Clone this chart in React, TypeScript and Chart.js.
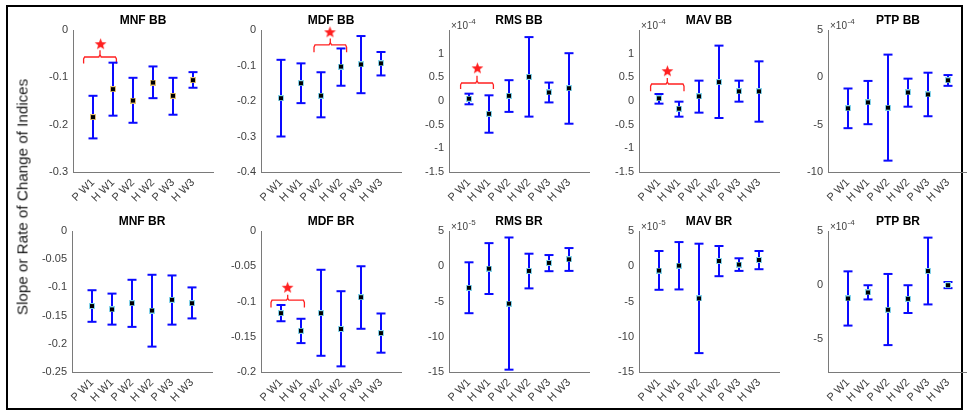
import React, { useEffect, useRef } from "react";
import { Chart, registerables } from "chart.js";
Chart.register(...registerables);

// ---------------- data ----------------
const categories = ["P W1", "H W1", "P W2", "H W2", "P W3", "H W3"];

// MNF BB
const mnfBBMean = [-0.184, -0.125, -0.149, -0.111, -0.139, -0.106];
const mnfBBLow = [-0.229, -0.181, -0.196, -0.144, -0.179, -0.122];
const mnfBBHigh = [-0.139, -0.069, -0.101, -0.077, -0.101, -0.089];
const mnfBBTicks = [-0.3, -0.2, -0.1, 0];
const mnfBBBrace = [0.53, 2.17, -0.057, -0.071, -0.043];
const mnfBBStar = [1.38, -0.029];

// MDF BB
const mdfBBMean = [-0.192, -0.15, -0.185, -0.103, -0.097, -0.094];
const mdfBBLow = [-0.3, -0.206, -0.246, -0.157, -0.178, -0.128];
const mdfBBHigh = [-0.084, -0.094, -0.119, -0.052, -0.017, -0.062];
const mdfBBTicks = [-0.4, -0.3, -0.2, -0.1, 0];
const mdfBBBrace = [2.65, 4.28, -0.042, -0.063, -0.024];
const mdfBBStar = [3.45, -0.005];

// RMS BB (x10^-4)
const rmsBBMean = [0.05, -0.27, 0.11, 0.51, 0.18, 0.27];
const rmsBBLow = [-0.07, -0.67, -0.23, -0.33, -0.03, -0.48];
const rmsBBHigh = [0.155, 0.12, 0.44, 1.35, 0.39, 1.01];
const rmsBBTicks = [-1.5, -1, -0.5, 0, 0.5, 1];
const rmsBBBrace = [0.58, 2.22, 0.38, 0.254, 0.535];
const rmsBBStar = [1.42, 0.7];

// MAV BB (x10^-4)
const mavBBMean = [0.056, -0.162, 0.099, 0.4, 0.204, 0.204];
const mavBBLow = [-0.056, -0.331, -0.246, -0.359, -0.014, -0.437];
const mavBBHigh = [0.148, -0.014, 0.43, 1.17, 0.43, 0.838];
const mavBBTicks = [-1.5, -1, -0.5, 0, 0.5, 1];
const mavBBBrace = [0.58, 2.25, 0.359, 0.204, 0.486];
const mavBBStar = [1.42, 0.64];

// PTP BB (x10^-4)
const ptpBBMean = [-3.27, -2.65, -3.2, -1.6, -1.81, -0.31];
const ptpBBLow = [-5.37, -4.95, -8.8, -3.1, -4.11, -0.9];
const ptpBBHigh = [-1.18, -0.38, 2.4, -0.14, 0.49, 0.24];
const ptpBBTicks = [-10, -5, 0, 5];

// MNF BR
const mnfBRMean = [-0.133, -0.139, -0.128, -0.141, -0.122, -0.128];
const mnfBRLow = [-0.161, -0.166, -0.17, -0.205, -0.166, -0.155];
const mnfBRHigh = [-0.105, -0.111, -0.0865, -0.0776, -0.0788, -0.1];
const mnfBRTicks = [-0.25, -0.2, -0.15, -0.1, -0.05, 0];

// MDF BR
const mdfBRMean = [-0.1165, -0.1415, -0.1165, -0.139, -0.0939, -0.1448];
const mdfBRLow = [-0.128, -0.159, -0.177, -0.192, -0.1387, -0.1726];
const mdfBRHigh = [-0.105, -0.1245, -0.055, -0.0854, -0.05, -0.117];
const mdfBRTicks = [-0.2, -0.15, -0.1, -0.05, 0];
const mdfBRBrace = [0.5, 2.17, -0.0981, -0.1085, -0.0906];
const mdfBRStar = [1.33, -0.0797];

// RMS BR (x10^-5)
const rmsBRMean = [-3.05, -0.33, -5.3, -0.66, 0.47, 0.98];
const rmsBRLow = [-6.66, -3.94, -14.67, -3.14, -0.7, -0.66];
const rmsBRHigh = [0.56, 3.28, 4.08, 1.78, 1.59, 2.58];
const rmsBRTicks = [-15, -10, -5, 0, 5];

// MAV BR (x10^-5)
const mavBRMean = [-0.61, 0.09, -4.56, 0.75, 0.24, 0.89];
const mavBRLow = [-3.34, -3.29, -12.32, -1.41, -0.66, -0.42];
const mavBRHigh = [2.16, 3.43, 3.2, 2.87, 1.13, 2.16];
const mavBRTicks = [-15, -10, -5, 0, 5];

// PTP BR (x10^-4)
const ptpBRMean = [-1.22, -0.67, -2.26, -1.25, 1.31, 0.0];
const ptpBRLow = [-3.72, -1.31, -5.52, -2.56, -1.77, -0.27];
const ptpBRHigh = [1.28, 0.0, 1.04, 0.0, 4.39, 0.3];
const ptpBRTicks = [-5, 0, 5];

// ---------------- style / layout ----------------
const FONT = "'Liberation Sans', Arial, sans-serif";
const BLUE = "#0a0aff";
const RED = "#ff2020";
const TICK_COLOR = "#404040";
const AXIS_COLOR = "#7a7a7a";
const YW = 60; // y-axis box width
const XH = 40; // x-axis box height
const PW = 140; // plot width
const PR = 20; // right padding
const CW = YW + PW + PR;
const CH = 212;

function makeMarker(edge: string) {
  const c = document.createElement("canvas");
  c.width = 6;
  c.height = 6;
  const ctx = c.getContext("2d")!;
  ctx.fillStyle = edge;
  ctx.fillRect(0, 0, 6, 6);
  ctx.fillStyle = "#000";
  ctx.fillRect(1, 1, 4, 4);
  return c;
}

function makeStar(size: number, color: string) {
  const c = document.createElement("canvas");
  c.width = size;
  c.height = size;
  const ctx = c.getContext("2d")!;
  const cx = size / 2;
  const cy = size / 2 + 0.6;
  const R = size / 2 - 0.3;
  const r = R * 0.42;
  ctx.beginPath();
  for (let k = 0; k < 10; k++) {
    const a = -Math.PI / 2 + (k * Math.PI) / 5;
    const rr = k % 2 === 0 ? R : r;
    ctx.lineTo(cx + rr * Math.cos(a), cy + rr * Math.sin(a));
  }
  ctx.closePath();
  ctx.fillStyle = color;
  ctx.fill();
  return c;
}

type PanelCfg = {
  title: string;
  mean: number[];
  low: number[];
  high: number[];
  ticks: number[];
  yMin: number;
  yMax: number;
  exp?: string;
  edge: string;
  brace?: number[];
  star?: number[];
  axisX: number;
  top: number;
  chartTop: number;
  titleY: number;
};

const TOP_X = [73, 261, 449, 639, 828];
const BOT_X = [72, 261, 449, 639, 828];
const EDGE_GOLD = "#e2c078";
const EDGE_CYAN = "#86d3ea";

const panels: PanelCfg[] = [
  { title: "MNF BB", mean: mnfBBMean, low: mnfBBLow, high: mnfBBHigh, ticks: mnfBBTicks, yMin: -0.3, yMax: 0, edge: EDGE_GOLD, brace: mnfBBBrace, star: mnfBBStar, axisX: TOP_X[0], top: 0, chartTop: 30, titleY: 21 },
  { title: "MDF BB", mean: mdfBBMean, low: mdfBBLow, high: mdfBBHigh, ticks: mdfBBTicks, yMin: -0.4, yMax: 0, edge: EDGE_CYAN, brace: mdfBBBrace, star: mdfBBStar, axisX: TOP_X[1], top: 0, chartTop: 30, titleY: 21 },
  { title: "RMS BB", mean: rmsBBMean, low: rmsBBLow, high: rmsBBHigh, ticks: rmsBBTicks, yMin: -1.5, yMax: 1.5, exp: "-4", edge: EDGE_CYAN, brace: rmsBBBrace, star: rmsBBStar, axisX: TOP_X[2], top: 0, chartTop: 30, titleY: 21 },
  { title: "MAV BB", mean: mavBBMean, low: mavBBLow, high: mavBBHigh, ticks: mavBBTicks, yMin: -1.5, yMax: 1.5, exp: "-4", edge: EDGE_CYAN, brace: mavBBBrace, star: mavBBStar, axisX: TOP_X[3], top: 0, chartTop: 30, titleY: 21 },
  { title: "PTP BB", mean: ptpBBMean, low: ptpBBLow, high: ptpBBHigh, ticks: ptpBBTicks, yMin: -10, yMax: 5, exp: "-4", edge: EDGE_CYAN, axisX: TOP_X[4], top: 0, chartTop: 30, titleY: 21 },
  { title: "MNF BR", mean: mnfBRMean, low: mnfBRLow, high: mnfBRHigh, ticks: mnfBRTicks, yMin: -0.25, yMax: 0, edge: EDGE_CYAN, axisX: BOT_X[0], top: 200, chartTop: 31, titleY: 22 },
  { title: "MDF BR", mean: mdfBRMean, low: mdfBRLow, high: mdfBRHigh, ticks: mdfBRTicks, yMin: -0.2, yMax: 0, edge: EDGE_CYAN, brace: mdfBRBrace, star: mdfBRStar, axisX: BOT_X[1], top: 200, chartTop: 31, titleY: 22 },
  { title: "RMS BR", mean: rmsBRMean, low: rmsBRLow, high: rmsBRHigh, ticks: rmsBRTicks, yMin: -15, yMax: 5, exp: "-5", edge: EDGE_CYAN, axisX: BOT_X[2], top: 200, chartTop: 31, titleY: 22 },
  { title: "MAV BR", mean: mavBRMean, low: mavBRLow, high: mavBRHigh, ticks: mavBRTicks, yMin: -15, yMax: 5, exp: "-5", edge: EDGE_CYAN, axisX: BOT_X[3], top: 200, chartTop: 31, titleY: 22 },
  { title: "PTP BR", mean: ptpBRMean, low: ptpBRLow, high: ptpBRHigh, ticks: ptpBRTicks, yMin: -8, yMax: 5, exp: "-4", edge: EDGE_CYAN, axisX: BOT_X[4], top: 200, chartTop: 31, titleY: 22 },
];

function bracePoints(b: number[]) {
  const [x0, x1, yh, ye, yt] = b;
  const xm = (x0 + x1) / 2;
  const d = yh - ye;
  const s = yt - yh;
  return [
    { x: x0, y: ye },
    { x: x0, y: yh - d * 0.3 },
    { x: x0 + 0.05, y: yh },
    { x: xm - 0.06, y: yh },
    { x: xm, y: yh + s * 0.35 },
    { x: xm, y: yt },
    { x: xm, y: yh + s * 0.35 },
    { x: xm + 0.06, y: yh },
    { x: x1 - 0.05, y: yh },
    { x: x1, y: yh - d * 0.3 },
    { x: x1, y: ye },
  ];
}

const expPlugin = {
  id: "expLabel",
  afterDraw(chart: any, _args: any, opts: any) {
    if (!opts || !opts.text) return;
    const { ctx, chartArea } = chart;
    ctx.save();
    ctx.fillStyle = TICK_COLOR;
    ctx.textBaseline = "alphabetic";
    ctx.textAlign = "left";
    ctx.font = `10px ${FONT}`;
    const x = chartArea.left + 2;
    ctx.fillText("\u00d710", x, chartArea.top - 1);
    const w = ctx.measureText("\u00d710").width;
    ctx.font = `8px ${FONT}`;
    ctx.fillText(opts.text, x + w + 0.5, chartArea.top - 6);
    ctx.restore();
  },
};

function fmt(v: number) {
  return String(Number(v.toFixed(4)));
}

function buildConfig(p: PanelCfg): any {
  const marker = makeMarker(p.edge);
  const star = makeStar(13, RED);
  const lines: any[] = [];
  categories.forEach((_, i) => {
    lines.push({ x: i + 1, y: p.low[i] });
    lines.push({ x: i + 1, y: p.high[i] });
    lines.push({ x: i + 1, y: null });
  });
  const caps = [
    ...categories.map((_, i) => ({ x: i + 1, y: p.low[i] })),
    ...categories.map((_, i) => ({ x: i + 1, y: p.high[i] })),
  ];
  const means = categories.map((_, i) => ({ x: i + 1, y: p.mean[i] }));
  const datasets: any[] = [
    { data: means, pointStyle: marker, pointRadius: 4, clip: false },
    { data: caps, pointStyle: "line", pointRadius: 4.5, pointBorderWidth: 2, pointBorderColor: BLUE, pointBackgroundColor: BLUE, clip: false },
    { data: lines, showLine: true, spanGaps: false, borderColor: BLUE, borderWidth: 2, pointRadius: 0, clip: false },
  ];
  if (p.brace) {
    datasets.push({ data: bracePoints(p.brace), showLine: true, borderColor: RED, borderWidth: 1.3, pointRadius: 0, tension: 0, clip: false });
  }
  if (p.star) {
    datasets.push({ data: [{ x: p.star[0], y: p.star[1] }], pointStyle: star, pointRadius: 6, clip: false });
  }
  const padTop = p.titleY - 7.2;
  const padBottom = p.chartTop - 14.4 - padTop;
  return {
    type: "scatter",
    data: { datasets },
    plugins: [expPlugin],
    options: {
      animation: false,
      responsive: false,
      devicePixelRatio: 1,
      events: [],
      layout: { padding: { left: 0, right: PR, top: 0, bottom: 0 } },
      plugins: {
        legend: { display: false },
        tooltip: { enabled: false },
        title: {
          display: true,
          text: p.title,
          fullSize: false,
          color: "#000",
          font: { family: FONT, size: 12, weight: "bold", lineHeight: 1.2 },
          padding: { top: padTop, bottom: padBottom },
        },
        expLabel: { text: p.exp || "" },
      },
      scales: {
        x: {
          type: "linear",
          min: 0,
          max: 7,
          offset: false,
          grid: { display: false, drawTicks: false },
          border: { display: true, color: AXIS_COLOR, width: 1 },
          afterBuildTicks: (s: any) => {
            s.ticks = categories.map((_, i) => ({ value: i + 1 }));
          },
          afterFit: (s: any) => {
            s.height = XH;
          },
          ticks: {
            autoSkip: false,
            minRotation: 45,
            maxRotation: 45,
            padding: 4,
            color: TICK_COLOR,
            font: { family: FONT, size: 11 },
            callback: (_v: any, i: number) => categories[i],
          },
        },
        y: {
          type: "linear",
          min: p.yMin,
          max: p.yMax,
          grid: { display: false, drawTicks: false },
          border: { display: true, color: AXIS_COLOR, width: 1 },
          afterBuildTicks: (s: any) => {
            s.ticks = p.ticks.map((v) => ({ value: v }));
          },
          afterFit: (s: any) => {
            s.width = YW;
          },
          ticks: {
            padding: 5,
            color: TICK_COLOR,
            font: { family: FONT, size: 11 },
            callback: (v: any) => fmt(Number(v)),
          },
        },
      },
    },
  };
}

function Panel({ p }: { p: PanelCfg }) {
  const ref = useRef<HTMLCanvasElement>(null);
  useEffect(() => {
    const chart = new Chart(ref.current!, buildConfig(p));
    return () => chart.destroy();
  }, []);
  return (
    <canvas
      ref={ref}
      width={CW}
      height={CH}
      style={{ position: "absolute", left: p.axisX - YW, top: p.top, width: CW, height: CH }}
    />
  );
}

export default function App() {
  return (
    <div style={{ position: "absolute", left: 0, top: 0, width: 967, height: 412, background: "#fff", overflow: "hidden" }}>
      <div
        style={{
          position: "absolute",
          left: 6,
          top: 5,
          width: 957,
          height: 405,
          border: "2px solid #000",
          boxSizing: "border-box",
        }}
      />
      {panels.map((p) => (
        <Panel key={p.title} p={p} />
      ))}
      <div
        style={{
          position: "absolute",
          left: 22,
          top: 197,
          transform: "translate(-50%, -50%) rotate(-90deg)",
          whiteSpace: "nowrap",
          fontFamily: FONT,
          fontSize: 15.2,
          color: "#1a1a1a",
        }}
      >
        Slope or Rate of Change of Indices
      </div>
    </div>
  );
}
